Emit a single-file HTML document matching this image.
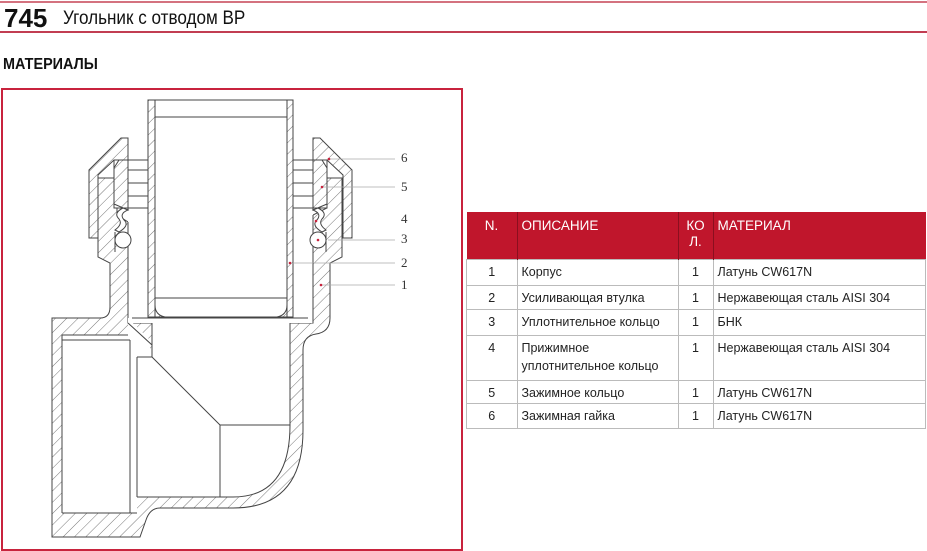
<!DOCTYPE html>
<html><head><meta charset="utf-8"><style>
body{margin:0;width:927px;height:550px;background:#fff;font-family:"Liberation Sans",Arial,sans-serif;position:relative;overflow:hidden}
.a{position:absolute}
table{border-collapse:collapse;font-size:12.5px;color:#222}
td{border:1px solid #bbb;vertical-align:top;padding:5px 4px 0 4px}
th{background:#c0162c;color:#fff;font-weight:normal;text-align:left;vertical-align:top;padding:6px 4px 0 4px;border-right:1px solid #8a0f1f;font-size:13.5px}
</style></head><body>
<div class="a" style="left:0;top:1px;width:927px;height:2px;background:#d4727f"></div>
<div class="a" style="left:4px;top:3px;font-size:26px;font-weight:bold;color:#111">745</div>
<div class="a" style="left:63px;top:8px;font-size:19px;color:#111;transform:scaleX(.9);transform-origin:left">Угольник с отводом ВР</div>
<div class="a" style="left:0;top:31px;width:927px;height:2px;background:#c23d52"></div>
<div class="a" style="left:3px;top:56px;font-size:16px;font-weight:bold;color:#111;transform:scaleX(.9);transform-origin:left">МАТЕРИАЛЫ</div>
<div class="a" style="left:1px;top:88px;width:458px;height:459px;border:2px solid #c8233d"></div>
<svg class="a" style="left:0;top:0" width="465" height="550">
<defs><pattern id="h" width="8" height="8" patternUnits="userSpaceOnUse" patternTransform="rotate(45)"><line x1="0" y1="0" x2="0" y2="8" stroke="#555" stroke-width="0.8"/></pattern>
<clipPath id="cl"><rect x="88" y="0" width="400" height="550"/></clipPath></defs>
<g stroke="#444" stroke-width="1">
<!-- body -->
<path fill="url(#h)" d="M52,318 H100 Q110,318 110,307 V263 L98,257 V178 H117 V215 L128,222 V323 H313 V215 L327,208 V178 H342 V257 L330,263 V318 Q330,332 316,334 Q303,336 303,350 V430 Q303,508 233,508 H160 Q150,508 146,520 L140,537 H52 Z"/>
<!-- cavities -->
<path fill="#fff" d="M128,222 V318 L150,340 V357 L152,357 V323 H290 V425 Q290,497 233,497 H137 V513 H62 V335 H128 Z" stroke="none"/>
<rect x="128" y="178" width="185" height="145" fill="#fff" stroke="none"/>
<g fill="none">
<path d="M62,513 V335 H128"/><line x1="62" y1="340" x2="130" y2="340"/><line x1="130" y1="340" x2="130" y2="513"/><line x1="137" y1="357" x2="137" y2="497"/><line x1="62" y1="513" x2="137" y2="513"/>
<path d="M128,323 L152,345 V357 H137"/><line x1="152" y1="323" x2="152" y2="357"/>
<path d="M290,323 V425 Q290,497 233,497 H137"/>
<line x1="152" y1="357" x2="220" y2="425"/><line x1="220" y1="425" x2="220" y2="497"/><line x1="220" y1="425" x2="290" y2="425"/>
<line x1="128" y1="222" x2="128" y2="318"/><line x1="313" y1="215" x2="313" y2="323"/>
</g>
<!-- nuts -->
<path fill="url(#h)" d="M313,138 H320 L352,170 V238 H343 V175 L327,160 H313 Z"/>
<path fill="url(#h)" clip-path="url(#cl)" d="M128,138 H121 L89,170 V238 H98 V175 L114,160 H128 Z"/>
<!-- clamp rings -->
<rect x="293" y="160" width="34" height="48" fill="#fff"/>
<path fill="url(#h)" d="M313,160 H322 L327,168 V204 L313,210 Z"/>
<line x1="293" y1="170" x2="313" y2="170"/><line x1="293" y1="183" x2="313" y2="183"/><line x1="293" y1="196" x2="313" y2="196"/>
<rect x="114" y="160" width="34" height="48" fill="#fff"/>
<path fill="url(#h)" d="M128,160 H119 L114,168 V204 L128,210 Z"/>
<line x1="128" y1="170" x2="148" y2="170"/><line x1="128" y1="183" x2="148" y2="183"/><line x1="128" y1="196" x2="148" y2="196"/>
<!-- press rings -->
<path fill="#fff" d="M313,210 Q323,214 316,221 Q312,226 322,232 L326,230 Q318,224 322,219 Q328,213 318,208 Z"/>
<path fill="#fff" d="M128,210 Q118,214 125,221 Q129,226 119,232 L115,230 Q123,224 119,219 Q113,213 123,208 Z"/>
<circle cx="318" cy="240" r="8" fill="#fff"/><circle cx="123" cy="240" r="8" fill="#fff"/>
<line x1="326" y1="232" x2="326" y2="252"/><line x1="115" y1="232" x2="115" y2="252"/>
<!-- pipe -->
<rect x="155" y="100" width="132" height="217" fill="#fff"/>
<path fill="url(#h)" d="M148,100 H155 V305 Q155,315 165,317 H148 Z"/>
<path fill="url(#h)" d="M293,100 H287 V305 Q287,315 277,317 H293 Z"/>
<line x1="155" y1="117" x2="287" y2="117"/><line x1="155" y1="298" x2="287" y2="298"/>
<line x1="132" y1="318" x2="308" y2="318"/>
</g>
<g stroke="#aaa" stroke-width="0.8">
<line x1="329" y1="159" x2="395" y2="159"/><line x1="322" y1="187" x2="395" y2="187"/>
<line x1="328" y1="240" x2="395" y2="240"/><line x1="292" y1="263" x2="395" y2="263"/><line x1="321" y1="285" x2="395" y2="285"/>
</g>
<g fill="#c8233d"><circle cx="329" cy="159" r="1.3"/><circle cx="322" cy="187" r="1.3"/><circle cx="316" cy="221" r="1.3"/><circle cx="318" cy="240" r="1.3"/><circle cx="290" cy="263" r="1.3"/><circle cx="321" cy="285" r="1.3"/></g>
<g font-family="Liberation Serif,serif" font-size="13" fill="#333">
<text x="401" y="162">6</text><text x="401" y="191">5</text><text x="401" y="223">4</text><text x="401" y="243">3</text><text x="401" y="267">2</text><text x="401" y="289">1</text></g>
</svg>
<table class="a" style="left:466px;top:212px;width:460px">
<tr style="height:47px"><th style="width:42px;text-align:center">N.</th><th style="width:152px">ОПИСАНИЕ</th><th style="width:26px;text-align:center;line-height:16px">КО<br>Л.</th><th style="border-right:none">МАТЕРИАЛ</th></tr>
<tr style="height:26px"><td style="text-align:center">1</td><td>Корпус</td><td style="text-align:center">1</td><td>Латунь CW617N</td></tr>
<tr style="height:24px"><td style="text-align:center">2</td><td>Усиливающая втулка</td><td style="text-align:center">1</td><td>Нержавеющая сталь AISI 304</td></tr>
<tr style="height:26px"><td style="text-align:center">3</td><td>Уплотнительное кольцо</td><td style="text-align:center">1</td><td>БНК</td></tr>
<tr style="height:45px"><td style="text-align:center">4</td><td style="line-height:18px;padding-top:3px">Прижимное<br>уплотнительное кольцо</td><td style="text-align:center">1</td><td>Нержавеющая сталь AISI 304</td></tr>
<tr style="height:23px"><td style="text-align:center">5</td><td>Зажимное кольцо</td><td style="text-align:center">1</td><td>Латунь CW617N</td></tr>
<tr style="height:25px"><td style="text-align:center">6</td><td>Зажимная гайка</td><td style="text-align:center">1</td><td>Латунь CW617N</td></tr>
</table>
</body></html>
